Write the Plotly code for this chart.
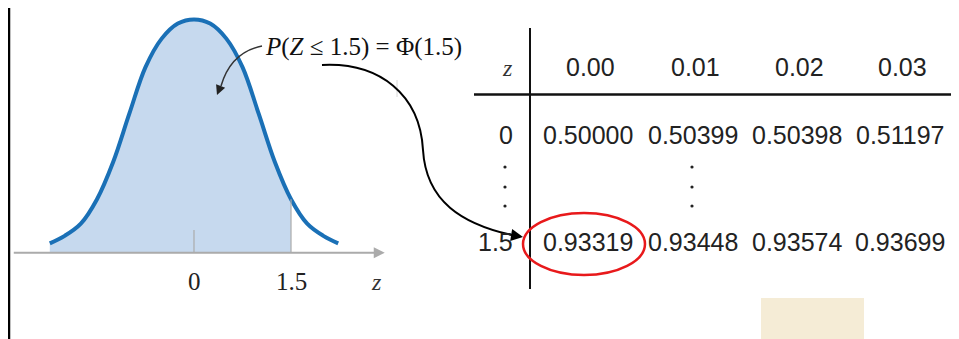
import plotly.graph_objects as go

# curve (z, density)
z_pts = [-2.23, -2.0, -1.75, -1.5, -1.25, -1.0, -0.75, -0.5, -0.25, 0.0,
         0.25, 0.5, 0.75, 1.0, 1.25, 1.5, 1.75, 2.0, 2.23]
dens = [0.016, 0.029, 0.050, 0.092, 0.156, 0.239, 0.319, 0.368, 0.394, 0.401,
        0.394, 0.368, 0.319, 0.239, 0.156, 0.092, 0.050, 0.029, 0.016]
z_cut = 1.5
tick_vals = [0, 1.5]
tick_text = ["0", "1.5"]

# table
col_labels = ["0.00", "0.01", "0.02", "0.03"]
row_labels = ["0", "1.5"]
row_0 = [0.50000, 0.50399, 0.50398, 0.51197]
row_15 = [0.93319, 0.93448, 0.93574, 0.93699]

W, H = 959, 339
OFF = 8  # page body margin
SERIF = "Liberation Serif, Times New Roman, serif"
SANS = "Liberation Sans, Arial, sans-serif"
BLUE = "#1a70b6"
FILL = "#c6d9ee"
GREY = "#ababab"

# pixel mapping for the curve axes (screen pixels)
x0px, px_per_z = 194, 64.67
base_px, px_per_d = 252.7, 581.75
xr = [(OFF - x0px) / px_per_z, (W - x0px) / px_per_z]
yr = [-(H - base_px) / px_per_d, (base_px - OFF) / px_per_d]

n_fill = len([z for z in z_pts if z <= z_cut])
fill_z = z_pts[:n_fill]
fill_d = dens[:n_fill]

fig = go.Figure()
fig.add_trace(go.Scatter(x=fill_z, y=fill_d, mode="lines", fill="tozeroy",
                         fillcolor=FILL, line=dict(width=0, shape="spline", smoothing=1),
                         hoverinfo="skip", showlegend=False))
fig.add_trace(go.Scatter(x=z_pts, y=dens, mode="lines",
                         line=dict(color=BLUE, width=4, shape="spline", smoothing=1),
                         hoverinfo="skip", showlegend=False))

shapes = []
# guide lines at 0 and 1.5
shapes.append(dict(type="line", xref="x", yref="y", x0=0, x1=0, y0=0, y1=0.039,
                   line=dict(color=GREY, width=1.2)))
shapes.append(dict(type="line", xref="x", yref="y", x0=z_cut, x1=z_cut, y0=0,
                   y1=fill_d[-1], line=dict(color=GREY, width=1.2)))
# frame line on the left
shapes.append(dict(type="line", xref="x2", yref="y2", x0=9, x1=9, y0=OFF, y1=H,
                   line=dict(color="black", width=2.5)))
# coloured block
shapes.append(dict(type="rect", xref="x2", yref="y2", x0=761, x1=864, y0=298, y1=339,
                   fillcolor="#f5ecd6", line=dict(width=0)))
# table rules
shapes.append(dict(type="line", xref="x2", yref="y2", x0=530, x1=530, y0=28, y1=289,
                   line=dict(color="#111", width=2)))
shapes.append(dict(type="line", xref="x2", yref="y2", x0=474, x1=957, y0=94.5, y1=94.5,
                   line=dict(color="#111", width=2.5)))
shapes.append(dict(type="line", xref="x2", yref="y2", x0=397, x1=397, y0=80, y1=97,
                   line=dict(color="#d8d8d8", width=1)))
# red ellipse
shapes.append(dict(type="circle", xref="x2", yref="y2", x0=523, x1=645, y0=213, y1=275,
                   line=dict(color="#e8191b", width=2.5)))
# curved connectors
shapes.append(dict(type="path", xref="x2", yref="y2",
                   path="M322,65 C380,62 420,95 423,150 C426,200 460,225 519,236.5",
                   line=dict(color="black", width=2)))
shapes.append(dict(type="path", xref="x2", yref="y2",
                   path="M262,46 C242,50 228,62 221,86",
                   line=dict(color="#333", width=1.5)))
# ellipsis dots
for cx in [505, 692]:
    for cy in [167, 187, 206]:
        shapes.append(dict(type="circle", xref="x2", yref="y2", x0=cx - 1.6, x1=cx + 1.6,
                           y0=cy - 1.6, y1=cy + 1.6, fillcolor="#222", line=dict(width=0)))

ann = []
# z axis with arrow
ann.append(dict(x=2.95, y=0, ax=-2.81, ay=0, xref="x", yref="y", axref="x", ayref="y",
                showarrow=True, arrowhead=2, arrowsize=1.1, arrowwidth=2,
                arrowcolor=GREY, text=""))
for v, t in zip(tick_vals, tick_text):
    ann.append(dict(x=v, y=281, xref="x", yref="y2", text=t, showarrow=False,
                    font=dict(family=SERIF, size=25, color="#222")))
ann.append(dict(x=2.82, y=282, xref="x", yref="y2", text="<i>z</i>", showarrow=False,
                font=dict(family=SERIF, size=24, color="#333")))
# probability label
ann.append(dict(x=363, y=47, xref="x2", yref="y2",
                text="<i>P</i>(<i>Z</i> ≤ 1.5) = Φ(1.5)", showarrow=False,
                font=dict(family=SERIF, size=25, color="#111")))
# arrow heads
ann.append(dict(x=523, y=237, ax=511, ay=235, xref="x2", yref="y2", axref="x2", ayref="y2",
                showarrow=True, arrowhead=2, arrowsize=1.2, arrowwidth=2,
                arrowcolor="black", text=""))
ann.append(dict(x=217, y=95, ax=221, ay=85, xref="x2", yref="y2", axref="x2", ayref="y2",
                showarrow=True, arrowhead=2, arrowsize=1.3, arrowwidth=1.5,
                arrowcolor="#222", text=""))

# table text
col_x = [590, 695, 799, 902]
row_y = [135, 242]
ann.append(dict(x=507, y=68, xref="x2", yref="y2", text="<i>z</i>", showarrow=False,
                font=dict(family=SERIF, size=24, color="#333")))
for cx, lab in zip(col_x, col_labels):
    ann.append(dict(x=cx, y=67, xref="x2", yref="y2", text=lab, showarrow=False,
                    font=dict(family=SANS, size=25, color="#222")))
for ry, lab, vals in zip(row_y, row_labels, [row_0, row_15]):
    ann.append(dict(x=515, y=ry, xref="x2", yref="y2", text=lab, showarrow=False,
                    xanchor="right", font=dict(family=SANS, size=25, color="#222")))
    for cx, v in zip(col_x, vals):
        ann.append(dict(x=cx - 2, y=ry, xref="x2", yref="y2", text=f"{v:.5f}",
                        showarrow=False, font=dict(family=SANS, size=25, color="#222")))

fig.update_layout(
    width=W - OFF, height=H - OFF,
    margin=dict(l=0, r=0, t=0, b=0),
    paper_bgcolor="white", plot_bgcolor="white",
    xaxis=dict(range=xr, visible=False, fixedrange=True),
    yaxis=dict(range=yr, visible=False, fixedrange=True),
    xaxis2=dict(range=[OFF, W], overlaying="x", visible=False),
    yaxis2=dict(range=[H, OFF], overlaying="y", visible=False),
    shapes=shapes,
    annotations=ann,
    showlegend=False,
)

fig.write_html("out.html")
